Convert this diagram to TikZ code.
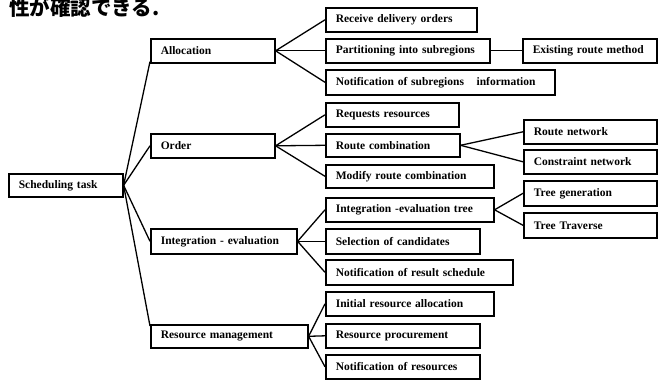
\documentclass[tikz,border=0pt]{standalone}
\usepackage{fontspec}
\setmainfont{Liberation Serif}
\newfontfamily\jpfont{Noto Sans CJK JP}
\tikzset{
  bx/.style={draw=black, line width=1.6pt, fill=white, inner xsep=10pt, inner ysep=0pt,
    align=left, font=\bfseries\fontsize{11.5}{13}\selectfont, anchor=north west},
  link/.style={draw=black, line width=1.3pt}
}
% \bx{name}{left}{top}{right}{bottom}{text}, measured in pt from the top-left corner
\newcommand{\bx}[6]{%
  \pgfmathsetmacro{\bxw}{#4-#2}%
  \pgfmathsetmacro{\bxh}{#5-#3}%
  \pgfmathsetmacro{\bxt}{#4-#2-20}%
  \node[bx, minimum width=\bxw pt, minimum height=\bxh pt, text width=\bxt pt] (#1) at (#2pt,-#3pt) {\mbox{#6}};}
\begin{document}
\begin{tikzpicture}
\useasboundingbox (0,0) rectangle (658pt,-380pt);
\clip (0,0) rectangle (658pt,-380pt);
\fill[white] (0,0) rectangle (658pt,-380pt);

% heading line, cut at the top
\node[anchor=base west, inner sep=0pt, font=\jpfont\bfseries\fontsize{20.5}{22}\selectfont] (head) at (9pt,-16pt) {性が確認できる.};

% root and first level
\bx{sched}{8}{173}{122}{196}{Scheduling task}
\bx{alloc}{150}{38}{274}{62}{Allocation}
\bx{order}{150}{133}{274}{157}{Order}
\bx{integ}{150}{228}{296}{253}{Integration - evaluation}
\bx{resm}{150}{324}{307}{347}{Resource management}

% second level
\bx{recv}{325}{7}{476}{31}{Receive delivery orders}
\bx{part}{325}{38}{489}{62}{Partitioning into subregions}
\bx{notsub}{325}{69}{554}{94}{Notification of subregions\hspace{1.1em}information}
\bx{reqres}{325}{102}{458}{126}{Requests resources}
\bx{routec}{325}{133}{459}{156}{Route combination}
\bx{modify}{325}{164}{493}{187}{Modify route combination}
\bx{ietree}{325}{197}{493}{221}{Integration -evaluation tree}
\bx{select}{325}{228}{479}{253}{Selection of candidates}
\bx{notres}{325}{259}{512}{284}{Notification of result schedule}
\bx{initr}{325}{291}{493}{315}{Initial resource allocation}
\bx{procur}{325}{323}{479}{347}{Resource procurement}
\bx{notrs}{325}{354}{479}{378}{Notification of resources}

% third level
\bx{exist}{522}{38}{656}{62}{Existing route method}
\bx{routen}{523}{119}{656}{143}{Route network}
\bx{constr}{523}{149}{656}{173}{Constraint network}
\bx{treeg}{523}{180}{656}{205}{Tree generation}
\bx{treet}{523}{212}{656}{237}{Tree Traverse}

% connectors
\draw[link] (sched.east) -- ([yshift=2pt]alloc.south west);
\draw[link] (sched.east) -- (order.west);
\draw[link] (sched.east) -- (integ.west);
\draw[link] (sched.east) -- ([yshift=-2pt]resm.north west);

\draw[link] (alloc.east) -- (recv.west);
\draw[link] (alloc.east) -- (part.west);
\draw[link] (alloc.east) -- (notsub.west);
\draw[link] (part.east) -- (exist.west);

\draw[link] (order.east) -- (reqres.west);
\draw[link] (order.east) -- (routec.west);
\draw[link] (order.east) -- (modify.west);
\draw[link] (routec.east) -- (routen.west);
\draw[link] (routec.east) -- (constr.west);

\draw[link] (integ.east) -- (ietree.west);
\draw[link] (integ.east) -- (select.west);
\draw[link] (integ.east) -- (notres.west);
\draw[link] (ietree.east) -- (treeg.west);
\draw[link] (ietree.east) -- (treet.west);

\draw[link] (resm.east) -- (initr.west);
\draw[link] (resm.east) -- (procur.west);
\draw[link] (resm.east) -- (notrs.west);
\end{tikzpicture}
\end{document}
